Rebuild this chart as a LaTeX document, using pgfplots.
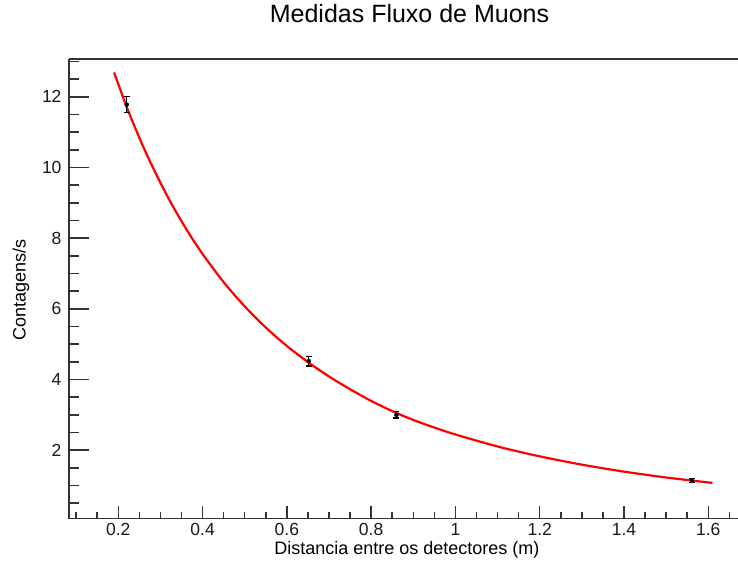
\documentclass[border=0pt]{standalone}
\usepackage{pgfplots}
\pgfplotsset{compat=1.18}
\usepackage{fontspec}
\setmainfont{Liberation Sans}
\pgfplotstableread{
x y
0.19 12.69
0.22 11.71
0.25 10.84
0.28 10.05
0.32 9.107
0.36 8.281
0.40 7.552
0.45 6.756
0.50 6.068
0.55 5.471
0.60 4.949
0.65 4.492
0.70 4.085
0.75 3.725
0.80 3.395
0.85 3.105
0.90 2.855
0.95 2.64
1.00 2.445
1.10 2.105
1.20 1.826
1.30 1.591
1.40 1.394
1.50 1.228
1.61 1.075
}\fitcurve
\pgfplotstableread{
x y e
0.220 11.78 0.22
0.652 4.52 0.14
0.860 3.00 0.09
1.561 1.14 0.05
}\meas
\pgfplotsset{
  common/.style={
    at={(69pt,43.3pt)}, anchor=south west,
    scale only axis, width=669pt, height=459.7pt,
    xmin=0.083, xmax=1.6705,
    ymin=0.062, ymax=13.07,
    axis line style={line width=1.5pt, black!80},
    tick align=inside,
    tick style={line width=1.5pt, black!80},
    /pgf/number format/assume math mode=true,
    /pgf/number format/fixed,
    ticklabel style={font=\fontsize{17.5}{20}\selectfont, text=black!90},
    clip=false,
  }
}
\begin{document}
\begin{tikzpicture}
% x ticks and labels
\begin{axis}[
  common,
  axis x line*=bottom, axis y line=none,
  xtick={0.2,0.4,0.6,0.8,1,1.2,1.4,1.6},
  minor xtick={0.1,0.15,0.25,0.3,0.35,0.45,0.5,0.55,0.65,0.7,0.75,0.85,0.9,0.95,1.05,1.1,1.15,1.25,1.3,1.35,1.45,1.5,1.55,1.65},
  ytick=\empty,
  major tick length=13pt, minor tick length=6.7pt,
  xticklabel style={yshift=-1pt},
  xlabel={Distancia entre os detectores (m)},
  xlabel style={at={(axis description cs:0.505,-0.068)}, anchor=center, font=\fontsize{18}{22}\selectfont},
]
\end{axis}
% main axis: y ticks, data
\begin{axis}[
  common,
  axis x line*=bottom, axis y line*=left,
  xtick=\empty,
  ytick={2,4,6,8,10,12},
  minor ytick={0.5,1,1.5,2.5,3,3.5,4.5,5,5.5,6.5,7,7.5,8.5,9,9.5,10.5,11,11.5,12.5,13},
  major tick length=20pt, minor tick length=10.5pt,
  yticklabel style={xshift=-4pt},
  title={Medidas Fluxo de Muons},
  title style={at={(axis description cs:0.509,1.085)}, anchor=center, font=\fontsize{25}{30}\selectfont},
  ylabel={Contagens/s},
  ylabel style={at={(axis description cs:-0.0717,0.4975)}, anchor=center, font=\fontsize{18}{22}\selectfont},
]
\addplot[red, line width=2.2pt, smooth, mark=none] table[x=x,y=y] {\fitcurve};
\addplot[only marks, mark=none, black,
  error bars/.cd, y dir=both, y explicit,
  error bar style={black, line width=1.3pt},
  error mark options={rotate=90, mark size=3pt, line width=1.3pt, black}]
  table[x=x, y=y, y error=e] {\meas};
\draw[line width=1.5pt, black!80] (rel axis cs:0,1) -- (rel axis cs:1,1);
\end{axis}
\pgfresetboundingbox
\path (0,0) rectangle (738pt,562pt);
\end{tikzpicture}
\end{document}
